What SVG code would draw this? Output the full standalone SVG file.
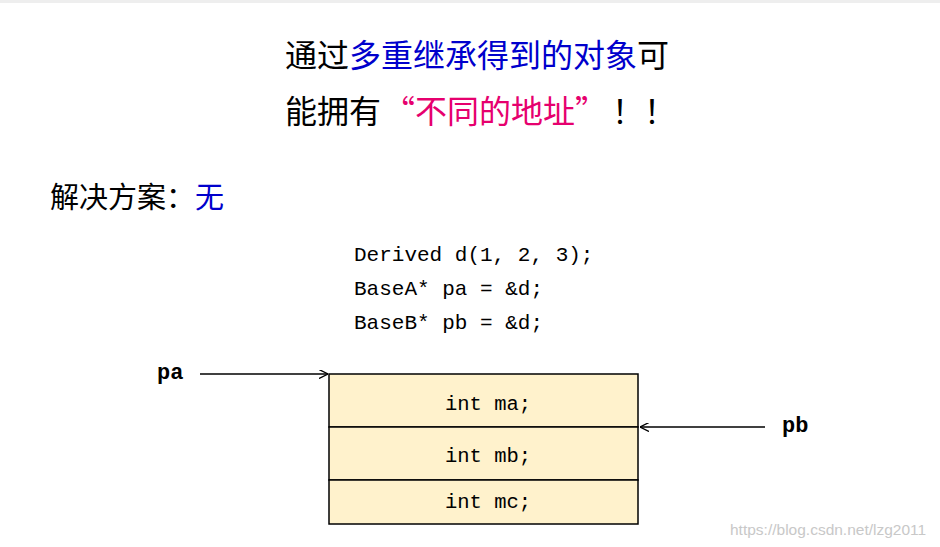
<svg xmlns="http://www.w3.org/2000/svg" width="940" height="547" viewBox="0 0 940 547">
<defs>
<style>
.t{font-family:"Noto Sans CJK SC","Liberation Sans",sans-serif;fill:#000}
.m{font-family:"Liberation Mono",monospace;font-size:20.5px;fill:#000}
.c{font-family:"Liberation Mono",monospace;font-size:21px;fill:#000}
.b{font-family:"Liberation Mono",monospace;font-size:22px;font-weight:bold;fill:#000}
.cell{fill:#FFF2CC;stroke:#000;stroke-width:1.5}
.ln{stroke:#000;stroke-width:1.5;fill:none}
</style>
<marker id="ah" viewBox="0 0 10 10" refX="10" refY="5" markerWidth="9" markerHeight="9" orient="auto" markerUnits="userSpaceOnUse"><path d="M0,0 L10,5 L0,10" fill="none" stroke="#000" stroke-width="1.5"/></marker>
</defs>
<rect width="940" height="547" fill="#fff"/>
<rect width="940" height="3" fill="#eee"/>
<text class="t" x="285" y="67" font-size="32">通过<tspan fill="#0000CC">多重继承得到的对象</tspan>可</text>
<text class="t" x="285" y="123" font-size="32">能拥有<tspan x="383" fill="#E6006E">“不同的地址”</tspan><tspan x="612">！！</tspan></text>
<text class="t" x="50" y="208" font-size="29">解决方案：<tspan fill="#0000CC">无</tspan></text>
<text class="c" x="354" y="261">Derived d(1, 2, 3);</text>
<text class="c" x="354" y="295">BaseA* pa = &amp;d;</text>
<text class="c" x="354" y="329">BaseB* pb = &amp;d;</text>
<g id="node-ma"><rect class="cell" x="329" y="374" width="309" height="53"/><text class="m" x="488" y="410" text-anchor="middle">int ma;</text></g>
<g id="node-mb"><rect class="cell" x="329" y="427" width="309" height="53"/><text class="m" x="488" y="462" text-anchor="middle">int mb;</text></g>
<g id="node-mc"><rect class="cell" x="329" y="480" width="309" height="44"/><text class="m" x="488" y="508" text-anchor="middle">int mc;</text></g>
<g id="node-pa"><text class="b" x="157" y="379">pa</text></g>
<g id="node-pb"><text class="b" x="782" y="432">pb</text></g>
<g id="connectors">
<line class="ln" x1="200" y1="374" x2="328" y2="374" marker-end="url(#ah)"/>
<line class="ln" x1="765" y1="427" x2="640" y2="427" marker-end="url(#ah)"/>
</g>
<text x="730" y="535" font-family="Liberation Sans,sans-serif" font-size="15.5" fill="#c8c8c8">https://blog.csdn.net/lzg2011</text>
</svg>
